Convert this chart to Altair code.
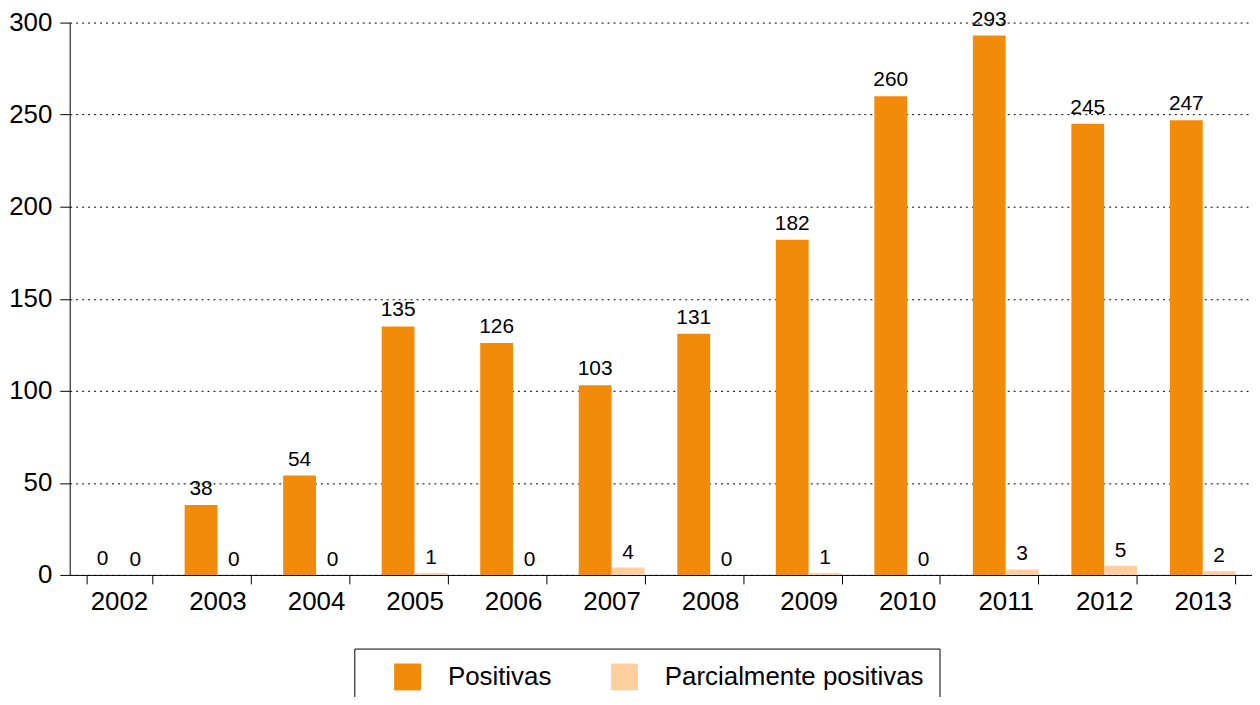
import altair as alt
import pandas as pd

years = ["2002", "2003", "2004", "2005", "2006", "2007", "2008", "2009", "2010", "2011", "2012", "2013"]
positivas = [0, 38, 54, 135, 126, 103, 131, 182, 260, 293, 245, 247]
parciales = [0, 0, 0, 1, 0, 4, 0, 1, 0, 3, 5, 2]
series = ["Positivas", "Parcialmente positivas"]
colors = ["#F38B0A", "#FDCE9E"]
y_ticks = [0, 50, 100, 150, 200, 250, 300]

rows = []
for i, y in enumerate(years):
    rows.append({"year": y, "serie": series[0], "value": positivas[i]})
    rows.append({"year": y, "serie": series[1], "value": parciales[i]})
df = pd.DataFrame(rows)

FONT = "Liberation Sans"

x_enc = alt.X(
    "year:N",
    sort=years,
    scale=alt.Scale(paddingInner=0.3333, paddingOuter=0.1667),
    axis=alt.Axis(
        title=None, labelAngle=0, tickBand="extent", tickSize=9, labelPadding=5,
        labelFontSize=26, labelFont=FONT, labelColor="black",
        domainColor="black", tickColor="black", grid=False,
    ),
)
xoff_enc = alt.XOffset("serie:N", sort=series,
                       scale=alt.Scale(domain=series, paddingInner=0, paddingOuter=0))
y_enc = alt.Y(
    "value:Q",
    scale=alt.Scale(domain=[0, 300], nice=False),
    axis=alt.Axis(
        title=None, values=y_ticks, tickSize=10, labelPadding=8,
        labelFontSize=26, labelFont=FONT, labelColor="black",
        domainColor="black", tickColor="black",
        grid=True, gridColor="black", gridDash=[2, 4], gridWidth=1,
    ),
)

base = alt.Chart(df)

bars = base.mark_bar().encode(
    x=x_enc,
    xOffset=xoff_enc,
    y=y_enc,
    color=alt.Color(
        "serie:N",
        scale=alt.Scale(domain=series, range=colors),
        legend=alt.Legend(
            title=None, orient="none", legendX=286, legendY=629,
            direction="horizontal", columns=2,
            symbolType="square", symbolSize=729, symbolStrokeWidth=0,
            symbolOffset=25, labelOffset=27, columnPadding=34,
            labelFontSize=26, labelFont=FONT, labelColor="black",
            strokeColor="black", padding=15, labelLimit=400,
        ),
    ),
)

txt_pos = base.transform_filter(alt.datum.serie == series[0]).mark_text(
    dy=-10, baseline="alphabetic", fontSize=21, font=FONT, color="black"
).encode(x=x_enc, xOffset=xoff_enc, y=y_enc, text=alt.Text("value:Q"))

txt_par = base.transform_filter(alt.datum.serie == series[1]).mark_text(
    dy=-9, baseline="alphabetic", fontSize=21, font=FONT, color="black"
).encode(x=x_enc, xOffset=xoff_enc, y=y_enc, text=alt.Text("value:Q"))

chart = alt.layer(bars, txt_pos, txt_par).properties(
    width=1188, height=555,
    autosize=alt.AutoSizeParams(type="none"),
    padding={"left": 62, "top": 13, "right": 0, "bottom": 121},
).configure_view(stroke=None)

chart.save("out.html", embed_options={"renderer": "svg", "actions": False})
